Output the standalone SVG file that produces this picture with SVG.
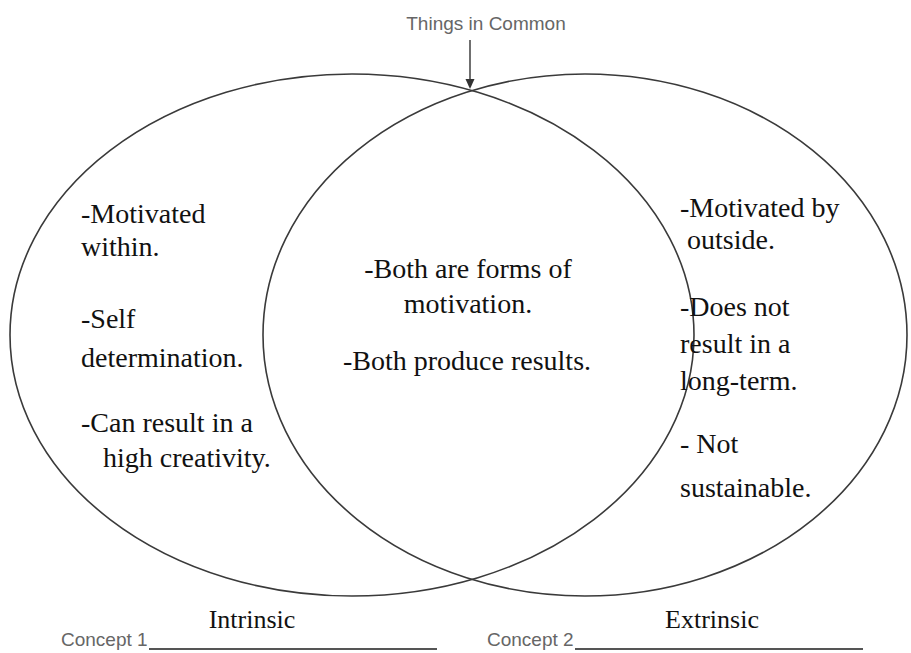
<svg xmlns="http://www.w3.org/2000/svg" width="911" height="653" viewBox="0 0 911 653">
<style>
.c{fill:none;stroke:#3a3a3a;stroke-width:1.6}
.t{font-family:'Liberation Serif','Times New Roman',serif;font-size:28px;fill:#111}
.l{font-family:'Liberation Serif','Times New Roman',serif;font-size:26px;fill:#111;text-anchor:middle}
.s{font-family:'Liberation Sans',Arial,sans-serif;font-size:19px;fill:#666}
.u{stroke:#555;stroke-width:2}
</style>
<rect width="911" height="653" fill="#fff"/>
<g id="circle-left"><ellipse class="c" cx="352" cy="335" rx="342" ry="261"/></g>
<g id="circle-right"><ellipse class="c" cx="585" cy="335" rx="322" ry="261"/></g>
<g id="label-common">
<text class="s" x="486" y="30" text-anchor="middle">Things in Common</text>
</g>
<g id="connectors">
<line x1="470" y1="40" x2="470" y2="81" stroke="#333" stroke-width="1.4"/>
<path d="M465.5,79 L474.5,79 L470,89 Z" fill="#333"/>
</g>
<g id="left-text">
<text class="t" x="81" y="223">-Motivated</text>
<text class="t" x="81" y="256">within.</text>
<text class="t" x="81" y="328">-Self</text>
<text class="t" x="81" y="367">determination.</text>
<text class="t" x="81" y="432">-Can result in a</text>
<text class="t" x="103" y="467">high creativity.</text>
</g>
<g id="center-text">
<text class="t" text-anchor="middle" x="468" y="278">-Both are forms of</text>
<text class="t" text-anchor="middle" x="468" y="313">motivation.</text>
<text class="t" text-anchor="middle" x="467" y="370">-Both produce results.</text>
</g>
<g id="right-text">
<text class="t" x="680" y="217">-Motivated by</text>
<text class="t" x="687" y="249">outside.</text>
<text class="t" x="680" y="316">-Does not</text>
<text class="t" x="680" y="353">result in a</text>
<text class="t" x="680" y="390">long-term.</text>
<text class="t" x="680" y="453">- Not</text>
<text class="t" x="680" y="497">sustainable.</text>
</g>
<g id="concept1">
<text class="l" x="252" y="628">Intrinsic</text>
<text class="s" x="61" y="646">Concept 1</text>
<line class="u" x1="149" y1="649" x2="437" y2="649"/>
</g>
<g id="concept2">
<text class="l" x="712" y="628">Extrinsic</text>
<text class="s" x="487" y="646">Concept 2</text>
<line class="u" x1="575" y1="649" x2="863" y2="649"/>
</g>
</svg>
